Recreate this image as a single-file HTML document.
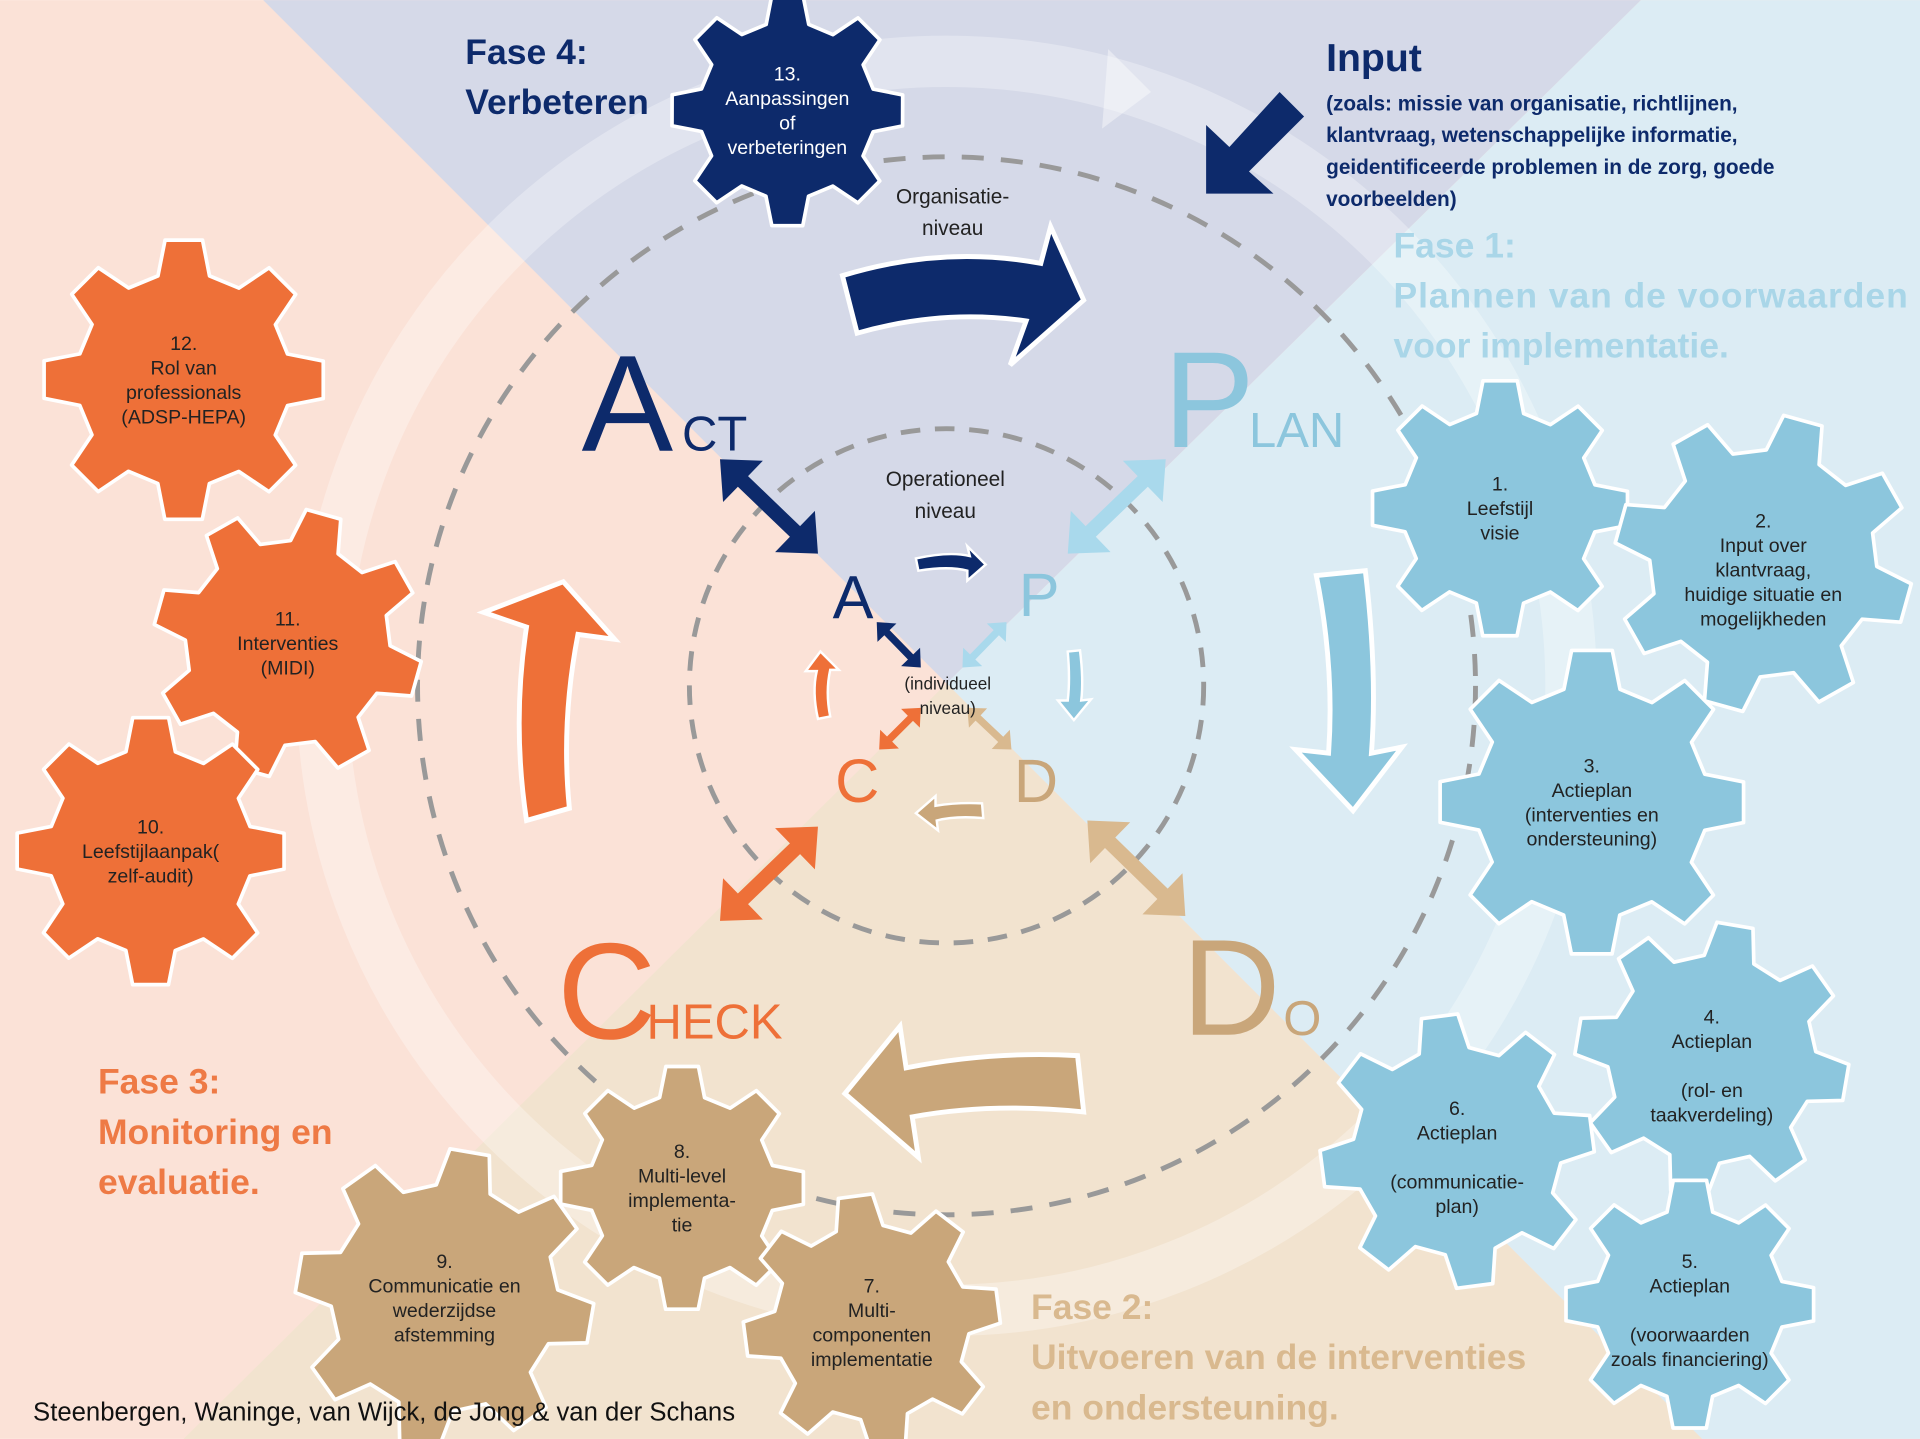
<!DOCTYPE html>
<html><head><meta charset="utf-8"><style>
html,body{margin:0;padding:0;background:#fff}
svg{display:block}
text{font-family:"Liberation Sans",sans-serif}
</style></head><body>
<svg id="s" width="1920" height="1439" viewBox="0 0 1568 1175" xmlns="http://www.w3.org/2000/svg">
<rect width="1568" height="1175" fill="#fbe2d7"/>
<polygon points="773,558 1340,0 1568,0 1568,1175 1390,1175" fill="#dcecf4"/>
<polygon points="773,558 215,0 1340,0" fill="#d5d9e8"/>
<polygon points="773,558 1390,1175 150,1175" fill="#f2e3cf"/>
<circle cx="773" cy="560" r="510" fill="none" stroke="#fff" stroke-opacity="0.3" stroke-width="42"/>
<polygon points="905,40 940,75 900,105" fill="#fff" fill-opacity="0.4"/>
<circle cx="773" cy="560" r="432" fill="none" stroke="#999" stroke-width="4" stroke-dasharray="18,14"/>
<circle cx="773" cy="560" r="210" fill="none" stroke="#999" stroke-width="4" stroke-dasharray="16,12"/>
<g id="gears"></g>
<path d="M688,225 Q770,200 850,215 L858,185 L885,245 L825,298 L838,262 Q770,252 700,272 Z" fill="#0d2a6b" stroke="#fff" stroke-width="4"/>
<path d="M460,475 L502,522 L472,518 Q458,590 465,660 L430,670 Q418,590 430,512 L395,500 Z" fill="#ee7038" stroke="#fff" stroke-width="4"/>
<path d="M1075,470 L1115,466 Q1125,550 1120,615 L1145,610 L1105,662 L1058,612 L1085,615 Q1090,545 1075,470 Z" fill="#8cc6dd" stroke="#fff" stroke-width="4"/>
<path d="M880,862 L885,908 Q810,900 745,912 L750,945 L690,893 L735,838 L740,872 Q810,858 880,862 Z" fill="#c9a67a" stroke="#fff" stroke-width="4"/>
<path d="M748,456 Q775,450 792,454 L790,446 L805,461 L790,474 L790,466 Q775,462 750,466 Z" fill="#0d2a6b" stroke="#fff" stroke-width="2"/>
<path d="M670,532 L685,547 L678,547 Q674,565 678,585 L668,587 Q663,565 667,548 L658,548 Z" fill="#ee7038" stroke="#fff" stroke-width="2"/>
<path d="M872,532 L882,531 Q885,555 883,572 L891,571 L877,588 L864,572 L872,572 Q874,555 872,532 Z" fill="#8cc6dd" stroke="#fff" stroke-width="2"/>
<path d="M802,656 L803,668 Q780,666 765,670 L766,678 L748,664 L764,650 L764,658 Q782,655 802,656 Z" fill="#c9a67a" stroke="#fff" stroke-width="2"/>
<g id="darrows"></g>
<polygon points="1045,75 1065,95 1020,140 1040,158 985,158 985,102 1004,120" fill="#0d2a6b"/>
<text x="475" y="368" font-size="112" fill="#0d2a6b">A</text><text x="557" y="368" font-size="40" fill="#0d2a6b">CT</text>
<text x="950" y="365" font-size="112" fill="#8cc6dd">P</text><text x="1020" y="365" font-size="40" fill="#8cc6dd">LAN</text>
<text x="455" y="848" font-size="112" fill="#ee7038">C</text><text x="528" y="848" font-size="40" fill="#ee7038">HECK</text>
<text x="965" y="845" font-size="112" fill="#c9a67a">D</text><text x="1048" y="845" font-size="40" fill="#c9a67a">O</text>
<text x="680" y="505" font-size="50" fill="#0d2a6b">A</text>
<text x="832" y="503" font-size="50" fill="#8cc6dd">P</text>
<text x="682" y="655" font-size="50" fill="#ee7038">C</text>
<text x="828" y="655" font-size="50" fill="#c9a67a">D</text>
<g font-size="17" fill="#222" text-anchor="middle">
<text x="778" y="166">Organisatie-</text><text x="778" y="192">niveau</text>
<text x="772" y="397">Operationeel</text><text x="772" y="423">niveau</text>
<text x="774" y="563" font-size="14">(individueel</text><text x="774" y="583" font-size="14">niveau)</text>
</g>
<g font-weight="bold">
<text x="380" y="52" font-size="29" fill="#0d2a6b">Fase 4:</text>
<text x="380" y="93" font-size="29" fill="#0d2a6b">Verbeteren</text>
<text x="1083" y="58" font-size="32" fill="#0d2a6b">Input</text>
<g font-size="17" fill="#0d2a6b">
<text x="1083" y="90">(zoals: missie  van organisatie, richtlijnen,</text>
<text x="1083" y="116">klantvraag, wetenschappelijke informatie,</text>
<text x="1083" y="142">geidentificeerde problemen in de zorg, goede</text>
<text x="1083" y="168">voorbeelden)</text></g>
<g font-size="29" fill="#a9d6e8">
<text x="1138" y="210">Fase 1:</text>
<text x="1138" y="251" textLength="420">Plannen van de voorwaarden</text>
<text x="1138" y="292">voor implementatie.</text></g>
<g font-size="29" fill="#ee7a45">
<text x="80" y="893">Fase 3:</text>
<text x="80" y="934">Monitoring en</text>
<text x="80" y="975">evaluatie.</text></g>
<g font-size="29" fill="#d9b98f">
<text x="842" y="1077">Fase 2:</text>
<text x="842" y="1118">Uitvoeren van de interventies</text>
<text x="842" y="1159">en ondersteuning.</text></g>
</g>
<g id="gt"></g>
<text x="27" y="1160" font-size="21" fill="#111">Steenbergen, Waninge, van Wijck, de Jong &amp; van der Schans</text>
</svg>
<script>
var NS="http://www.w3.org/2000/svg";
function gear(cx,cy,R,col,rot){
 var n=8,r=R*0.76,pts=[],s=Math.PI/n;
 for(var i=0;i<n;i++){
  var a=rot+i*2*s;
  pts.push([cx+r*Math.cos(a-s*0.62),cy+r*Math.sin(a-s*0.62)]);
  pts.push([cx+R*Math.cos(a-s*0.34),cy+R*Math.sin(a-s*0.34)]);
  pts.push([cx+R*Math.cos(a+s*0.34),cy+R*Math.sin(a+s*0.34)]);
  pts.push([cx+r*Math.cos(a+s*0.62),cy+r*Math.sin(a+s*0.62)]);
 }
 var p=document.createElementNS(NS,"polygon");
 p.setAttribute("points",pts.map(function(q){return q[0].toFixed(1)+","+q[1].toFixed(1)}).join(" "));
 p.setAttribute("fill",col);p.setAttribute("stroke","#fff");p.setAttribute("stroke-width","3");p.setAttribute("stroke-linejoin","round");
 document.getElementById("gears").appendChild(p);
}
function label(cx,cy,lines,col,fs){
 var g=document.getElementById("gt"),lh=fs*1.25,y0=cy-(lines.length-1)*lh/2+fs*0.35;
 lines.forEach(function(l,i){var t=document.createElementNS(NS,"text");
  t.setAttribute("x",cx);t.setAttribute("y",y0+i*lh);t.setAttribute("text-anchor","middle");
  t.setAttribute("font-size",fs);t.setAttribute("fill",col);t.textContent=l;g.appendChild(t);});
}
var N="#0d2a6b",O="#ee7038",B="#8cc6dd",T="#c9a67a";
var G=[
[643,90,95,N,-1.57,["13.","Aanpassingen","of","verbeteringen"],"#fff",16],
[150,310,115,O,-1.57,["12.","Rol van","professionals","(ADSP-HEPA)"],"#222",16],
[235,525,110,O,-1.3,["11.","Interventies","(MIDI)"],"#222",16],
[123,695,110,O,-1.57,["10.","Leefstijlaanpak(","zelf-audit)"],"#222",16],
[1225,415,105,B,-1.57,["1.","Leefstijl","visie"],"#222",16],
[1440,460,122,B,-1.3,["2.","Input over","klantvraag,","huidige situatie en","mogelijkheden"],"#222",16],
[1300,655,125,B,-1.57,["3.","Actieplan","(interventies en","ondersteuning)"],"#222",16],
[1398,865,112,B,-1.4,["4.","Actieplan","","(rol- en","taakverdeling)"],"#222",16],
[1190,940,112,B,-1.7,["6.","Actieplan","","(communicatie-","plan)"],"#222",16],
[1380,1065,102,B,-1.57,["5.","Actieplan","","(voorwaarden","zoals financiering)"],"#222",16],
[557,970,100,T,-1.57,["8.","Multi-level","implementa-","tie"],"#222",16],
[363,1060,122,T,-1.4,["9.","Communicatie en","wederzijdse","afstemming"],"#222",16],
[712,1080,105,T,-1.7,["7.","Multi-","componenten","implementatie"],"#222",16]];
G.forEach(function(g){gear(g[0],g[1],g[2],g[3],g[4]);label(g[0],g[1]+(g[5].length>4?5:0),g[5],g[6],g[7]);});
function darrow(x1,y1,x2,y2,col,w,h){
 var dx=x2-x1,dy=y2-y1,L=Math.hypot(dx,dy),ux=dx/L,uy=dy/L,px=-uy,py=ux;
 function P(t,o){return (x1+ux*t+px*o).toFixed(1)+","+(y1+uy*t+py*o).toFixed(1)}
 var pts=[P(0,0),P(h,h*0.9),P(h,w/2),P(L-h,w/2),P(L-h,h*0.9),P(L,0),P(L-h,-h*0.9),P(L-h,-w/2),P(h,-w/2),P(h,-h*0.9)];
 var p=document.createElementNS(NS,"polygon");p.setAttribute("points",pts.join(" "));p.setAttribute("fill",col);
 document.getElementById("darrows").appendChild(p);
}
darrow(588,375,668,452,N,12,26);darrow(952,375,872,452,"#a9d9ec",12,26);
darrow(588,752,668,675,O,12,26);darrow(968,748,888,670,"#d9b98f",12,26);
darrow(716,508,752,545,N,6,12);darrow(822,508,786,545,"#a9d9ec",6,12);
darrow(752,578,718,612,O,6,12);darrow(790,578,826,612,"#d9b98f",6,12);
</script>
</body></html>
